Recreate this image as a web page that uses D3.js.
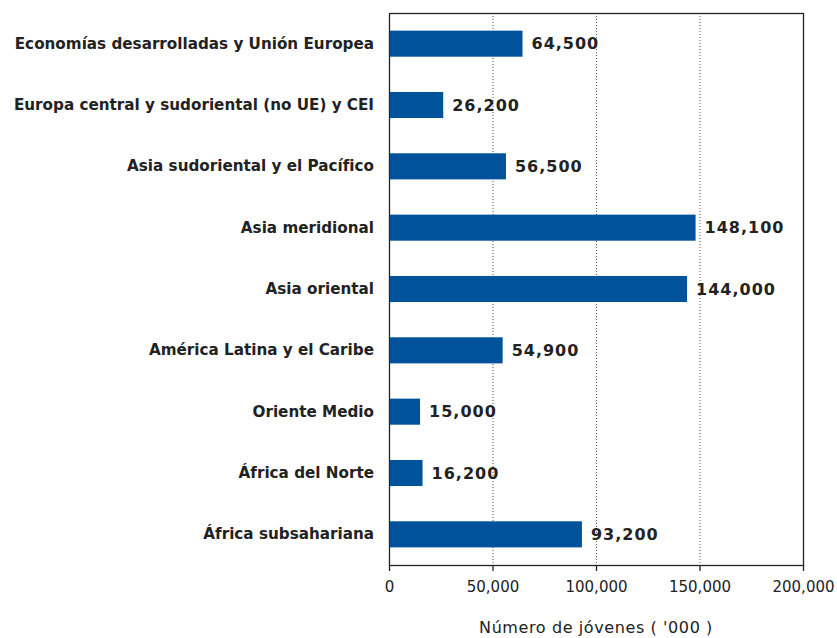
<!DOCTYPE html>
<html lang="es">
<head>
<meta charset="utf-8">
<title>Número de jóvenes</title>
<script src="https://d3js.org/d3.v7.min.js"></script>
<style>
  body { margin: 0; background: #fff; }
  text { font-family: "DejaVu Sans", Verdana, sans-serif; fill: #222; }
</style>
</head>
<body>
<div id="chart"></div>
<script>
// data
var regions = [
  "Economías desarrolladas y Unión Europea",
  "Europa central y sudoriental (no UE) y CEI",
  "Asia sudoriental y el Pacífico",
  "Asia meridional",
  "Asia oriental",
  "América Latina y el Caribe",
  "Oriente Medio",
  "África del Norte",
  "África subsahariana"
];
var youths = [64500, 26200, 56500, 148100, 144000, 54900, 15000, 16200, 93200];
var xTicks = [0, 50000, 100000, 150000, 200000];
var xTitle = "Número de jóvenes ( '000 )";

var margin = {top: 13, right: 34, bottom: 73, left: 389},
    width = 837 - margin.left - margin.right,
    height = 638 - margin.top - margin.bottom;

var svg = d3.select("#chart")
  .append("svg")
    .attr("width", 837)
    .attr("height", 638)
  .append("g")
    .attr("transform", "translate(" + margin.left + "," + margin.top + ")");

var x = d3.scaleLinear()
  .domain([0, 200000])
  .range([0, width]);

var y = d3.scaleBand()
  .domain(regions)
  .range([0, height])
  .paddingInner(0.575)
  .paddingOuter(0.2875);

var fmt = d3.format(",");

// dotted grid lines
svg.selectAll(".grid")
  .data(xTicks.slice(1, -1))
  .enter()
  .append("line")
    .attr("x1", function(d) { return x(d) + 0.5; })
    .attr("x2", function(d) { return x(d) + 0.5; })
    .attr("y1", 0)
    .attr("y2", height)
    .attr("stroke", "#555")
    .attr("stroke-width", 1)
    .attr("stroke-dasharray", "1,2");

// plot frame
svg.append("rect")
  .attr("x", 0.5)
  .attr("y", 0.5)
  .attr("width", width)
  .attr("height", height)
  .attr("fill", "none")
  .attr("stroke", "#222")
  .attr("stroke-width", 1.3);

// bars
svg.selectAll(".bar")
  .data(youths)
  .enter()
  .append("rect")
    .attr("x", 1)
    .attr("y", function(d, i) { return y(regions[i]); })
    .attr("width", function(d) { return x(d) - 1; })
    .attr("height", y.bandwidth())
    .attr("fill", "#00529b");

// value labels
svg.selectAll(".val")
  .data(youths)
  .enter()
  .append("text")
    .attr("x", function(d) { return x(d) + 9; })
    .attr("y", function(d, i) { return y(regions[i]) + y.bandwidth() / 2; })
    .attr("dy", "0.36em")
    .style("font-size", "16px")
    .style("font-weight", "bold")
    .style("letter-spacing", "1px")
    .text(function(d) { return fmt(d); });

// category labels
var yAxis = svg.append("g")
  .call(d3.axisLeft(y).tickSize(0).tickPadding(15));
yAxis.select(".domain").remove();
yAxis.selectAll("text")
  .style("font-size", "15.2px")
  .style("font-weight", "bold")
  .attr("fill", "#222");

// x axis
var xAxis = svg.append("g")
  .attr("transform", "translate(0," + height + ")")
  .call(d3.axisBottom(x).tickValues(xTicks).tickFormat(fmt).tickSize(6).tickPadding(10));
xAxis.select(".domain").remove();
xAxis.selectAll("line").attr("stroke", "#222").attr("stroke-width", 1.3);
xAxis.selectAll("text")
  .style("font-size", "15px")
  .attr("fill", "#333");

svg.append("text")
  .attr("x", width / 2)
  .attr("y", height + 68)
  .attr("text-anchor", "middle")
  .style("font-size", "16px")
  .style("letter-spacing", "0.6px")
  .attr("fill", "#333")
  .text(xTitle);
</script>
</body>
</html>
